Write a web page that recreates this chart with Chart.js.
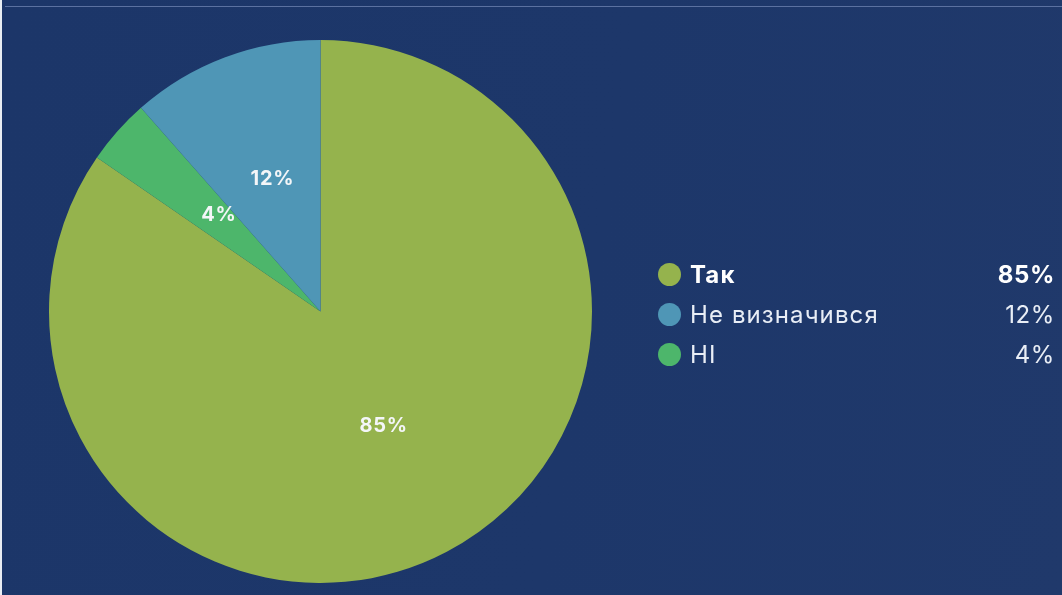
<!DOCTYPE html>
<html>
<head>
<meta charset="utf-8">
<script src="https://cdn.jsdelivr.net/npm/chart.js@4.4.1/dist/chart.umd.min.js"></script>
<style>
  html, body { margin: 0; padding: 0; }
  body {
    width: 1062px;
    height: 595px;
    overflow: hidden;
    background: #e9edf3;
    font-family: "Inter", "Roboto", "Noto Sans", sans-serif;
  }
  .panel {
    position: absolute;
    left: 2px;
    top: 0;
    width: 1060px;
    height: 595px;
    background: linear-gradient(100deg, #1c3669 0%, #1d376a 55%, #20396b 100%);
  }
  .topline {
    position: absolute;
    left: 3px;
    top: 6px;
    width: 1057px;
    height: 1px;
    background: #5b71a0;
  }
  #chartBox {
    position: absolute;
    left: -2px;
    top: 0;
    width: 1062px;
    height: 595px;
  }
  .legend {
    position: absolute;
    left: 656px;
    top: 254px;
    width: 396px;
  }
  .row {
    display: flex;
    align-items: center;
    height: 40px;
    font-size: 24px;
    letter-spacing: 1.1px;
    color: #e9eef6;
  }
  .dot {
    width: 23px;
    height: 23px;
    border-radius: 50%;
    margin-right: 9px;
    flex: none;
  }
  .name { flex: 1; }
  .pct { text-align: right; letter-spacing: 0.6px; margin-right: -1px; }
  .row.main { font-weight: 700; color: #ffffff; }
</style>
</head>
<body>
<div class="panel">
  <div class="topline"></div>
  <div id="chartBox"><canvas id="pie"></canvas></div>
  <div class="legend" id="legend"></div>
</div>
<script>
// slice order as drawn clockwise from 12 o'clock
const sliceLabels = ["Так", "Ні", "Не визначився"];
const sliceValues = [84.6, 3.9, 11.5];
const sliceColors = ["#95b34d", "#4db66b", "#4f96b6"];

// legend order
const legendLabels = ["Так", "Не визначився", "Ні"];
const legendText = ["Так", "Не визначився", "НІ"];

const pctLabels = {
  id: "pctLabels",
  afterDatasetsDraw(chart) {
    const ctx = chart.ctx;
    const meta = chart.getDatasetMeta(0);
    ctx.save();
    ctx.font = "700 20px Inter, Roboto, sans-serif";
    ctx.fillStyle = "#f4f6f8";
    ctx.textAlign = "center";
    ctx.textBaseline = "middle";
    if ("letterSpacing" in ctx) ctx.letterSpacing = "0.8px";
    meta.data.forEach((arc, i) => {
      const p = arc.tooltipPosition();
      ctx.fillText(Math.round(sliceValues[i]) + "%", p.x, p.y - 6);
    });
    ctx.restore();
  },
};

new Chart(document.getElementById("pie"), {
  type: "pie",
  data: {
    labels: sliceLabels,
    datasets: [
      {
        data: sliceValues,
        backgroundColor: sliceColors,
        borderWidth: 0,
      },
    ],
  },
  options: {
    responsive: true,
    maintainAspectRatio: false,
    animation: false,
    layout: {
      padding: { left: 49, right: 470, top: 39, bottom: 11 },
    },
    plugins: {
      legend: { display: false },
      tooltip: { enabled: false },
    },
  },
  plugins: [pctLabels],
});

// html legend
const legend = document.getElementById("legend");
legendLabels.forEach((lab, i) => {
  const idx = sliceLabels.indexOf(lab);
  const row = document.createElement("div");
  row.className = "row" + (i === 0 ? " main" : "");
  row.innerHTML =
    '<span class="dot" style="background:' + sliceColors[idx] + '"></span>' +
    '<span class="name">' + legendText[i] + "</span>" +
    '<span class="pct">' + Math.round(sliceValues[idx]) + "%</span>";
  legend.appendChild(row);
});
</script>
</body>
</html>
